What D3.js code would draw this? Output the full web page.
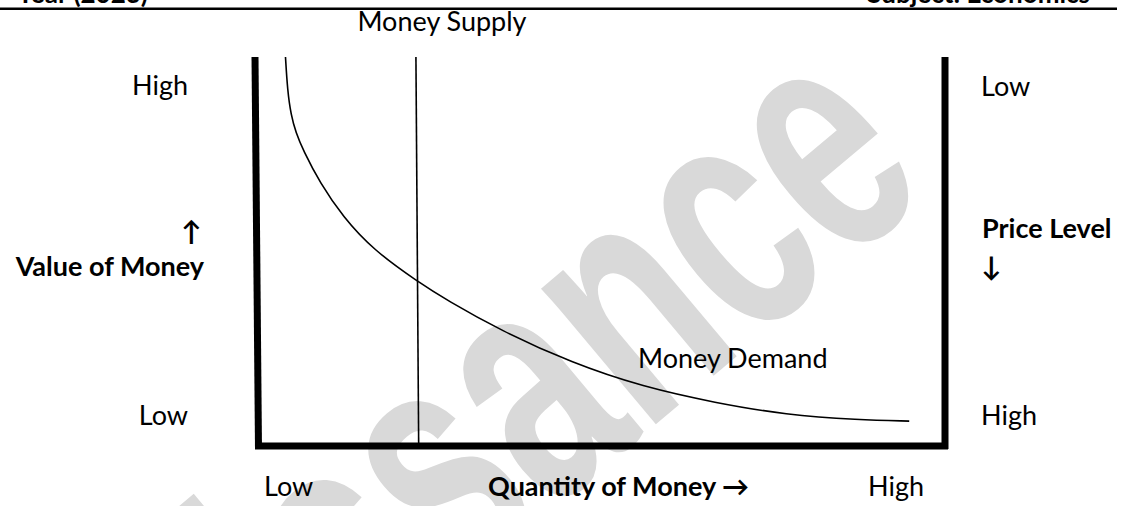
<!DOCTYPE html>
<html>
<head>
<meta charset="utf-8">
<script src="https://cdn.jsdelivr.net/npm/d3@7"></script>
<style>
  html, body { margin: 0; padding: 0; background: #fff; }
  svg { display: block; }
  text { font-family: Lato, "Open Sans", sans-serif; fill: #000; }
</style>
</head>
<body>
<svg id="chart" width="1121" height="506"></svg>
<script>
// ---- data ----
const quantityLabels = ["Low", "High"];          // bottom axis end labels
const valueLabels = ["High", "Low"];             // left axis (top, bottom)
const priceLabels = ["Low", "High"];             // right axis (top, bottom)
const demandQuantity = [4.14, 4.43, 4.94, 5.67, 6.69, 9.16, 12.5, 16.9, 23.4, 27.6, 35.3, 45.8, 56.1, 66.6, 76.9, 87.4, 94.8];
const demandValue    = [100, 91.5, 85.1, 80.5, 76.1, 67.6, 58.9, 50.4, 42.2, 37.5, 29.8, 21.3, 15.2, 11.1, 8.0, 6.7, 6.4];
const supplyQuantity = [23.1, 23.5];             // vertical money supply (top, bottom)
const supplyValue    = [100, 0];
const titles = { supply: "Money Supply", demand: "Money Demand", xAxis: "Quantity of Money \u2192", yLeft: "Value of Money", yRight: "Price Level" };

// ---- scales ----
const svg = d3.select("#chart");
const x = d3.scaleLinear().domain([0, 100]).range([257, 945]);
const y = d3.scaleLinear().domain([0, 100]).range([446, 57]);

// ---- watermark ----
svg.append("text")
  .attr("transform", "translate(935,190) rotate(-40) scale(0.95,1.45)")
  .attr("text-anchor", "end")
  .style("font-family", "'Liberation Sans', Arial, sans-serif")
  .style("font-weight", "bold")
  .style("font-size", "232px")
  .style("fill", "#d9d9d9")
  .text("Renaissance");

// ---- header (cut off) ----
svg.append("line").attr("x1", 0).attr("x2", 1117).attr("y1", 8.7).attr("y2", 8.7)
  .attr("stroke", "#000").attr("stroke-width", 2.6);
svg.append("text").attr("x", 148).attr("y", 3).attr("text-anchor", "end")
  .style("font-weight", "bold").style("font-size", "26px").text("Year (2023)");
svg.append("text").attr("x", 1090).attr("y", 3).attr("text-anchor", "end")
  .style("font-weight", "bold").style("font-size", "26px").text("Subject: Economics");

// ---- axes frame ----
const frame = svg.append("g").attr("stroke", "#000").attr("fill", "none").attr("stroke-linecap", "butt");
frame.append("line").attr("x1", x(0) - 2).attr("x2", x(0) + 1.5).attr("y1", y(100)).attr("y2", y(0) + 3)
  .attr("stroke-width", 7);
frame.append("line").attr("x1", x(0) - 2).attr("x2", x(100) + 3).attr("y1", y(0)).attr("y2", y(0))
  .attr("stroke-width", 7);
frame.append("line").attr("x1", x(100)).attr("x2", x(100)).attr("y1", y(100)).attr("y2", y(0) + 3)
  .attr("stroke-width", 7);

// ---- money supply ----
svg.append("line")
  .attr("x1", x(supplyQuantity[0])).attr("y1", y(supplyValue[0]))
  .attr("x2", x(supplyQuantity[1])).attr("y2", y(supplyValue[1]))
  .attr("stroke", "#000").attr("stroke-width", 1.6);

// ---- money demand ----
const demand = demandQuantity.map((q, i) => [q, demandValue[i]]);
svg.append("path")
  .datum(demand)
  .attr("d", d3.line().x(d => x(d[0])).y(d => y(d[1])).curve(d3.curveBasis))
  .attr("fill", "none").attr("stroke", "#000").attr("stroke-width", 1.6);

// ---- labels ----
const fs = "27px";
svg.append("text").attr("x", 442).attr("y", 31).attr("text-anchor", "middle").style("font-size", fs).text(titles.supply);
svg.append("text").attr("x", 638).attr("y", 368).style("font-size", fs).text(titles.demand);

// left axis
svg.append("text").attr("x", 188).attr("y", 95).attr("text-anchor", "end").style("font-size", fs).text(valueLabels[0]);
svg.append("text").attr("x", 188).attr("y", 425).attr("text-anchor", "end").style("font-size", fs).text(valueLabels[1]);
svg.append("text").attr("x", 191).attr("y", 241).attr("text-anchor", "middle").style("font-size", fs).style("font-weight", "bold").text("\u2191");
svg.append("text").attr("x", 204).attr("y", 276).attr("text-anchor", "end").style("font-size", fs).style("font-weight", "bold").text(titles.yLeft);

// right axis
svg.append("text").attr("x", 981).attr("y", 96).style("font-size", fs).text(priceLabels[0]);
svg.append("text").attr("x", 981).attr("y", 425).style("font-size", fs).text(priceLabels[1]);
svg.append("text").attr("x", 982).attr("y", 238).style("font-size", fs).style("font-weight", "bold").text(titles.yRight);
svg.append("text").attr("x", 991).attr("y", 276).attr("text-anchor", "middle").style("font-size", fs).style("font-weight", "bold").text("\u2193");

// bottom axis
svg.append("text").attr("x", 264).attr("y", 496).style("font-size", fs).text(quantityLabels[0]);
svg.append("text").attr("x", 868).attr("y", 496).style("font-size", fs).text(quantityLabels[1]);
svg.append("text").attr("x", 488).attr("y", 496).style("font-size", fs).style("font-weight", "bold").text(titles.xAxis);
</script>
</body>
</html>
